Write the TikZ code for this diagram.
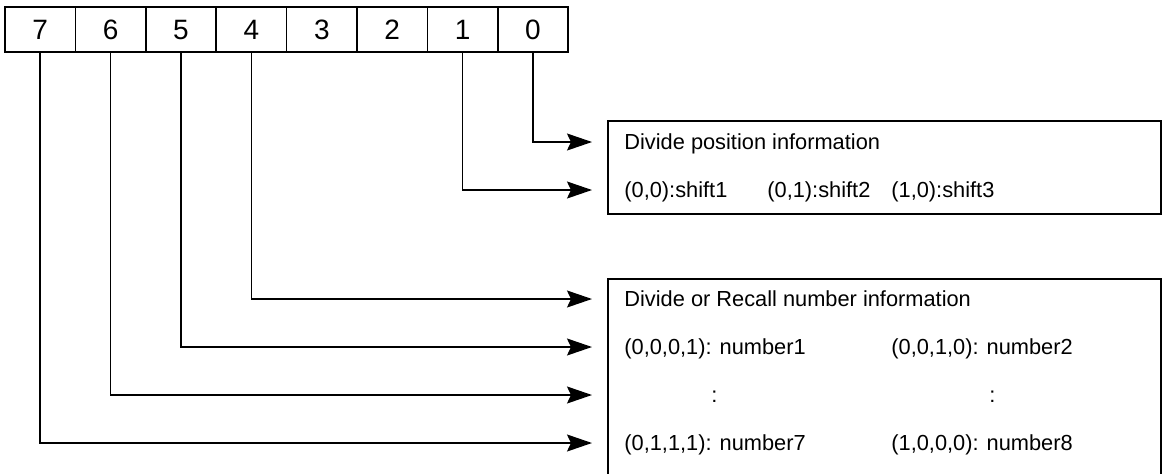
\documentclass[tikz,border=0pt]{standalone}
\usepackage{fontspec}
\setmainfont{Liberation Sans}
\usetikzlibrary{arrows.meta}

\newcommand{\bitfont}{\fontsize{14}{16}\selectfont}
\newcommand{\infofont}{\fontsize{10.9}{13}\selectfont}

\tikzset{
  bitcell/.style={draw=black, line width=0.8pt, minimum width=35.2pt, minimum height=22.5pt, inner sep=0pt, outer sep=0pt, font=\bitfont},
  infobox/.style={draw=black, line width=0.9pt, inner sep=0pt, outer sep=0pt, anchor=north west, minimum width=276.5pt},
  infotext/.style={anchor=base west, inner sep=0pt, yshift=-3.75pt, font=\infofont},
  wire/.style={line width=0.75pt, -{Stealth[length=12.5pt, width=8.5pt, inset=2pt]}}
}

\begin{document}
\begin{tikzpicture}[x=0.5pt, y=-0.5pt]
    \useasboundingbox (0,0) rectangle (1164,473);
    % register bits
    \foreach \b in {0,...,7}
        \node[bitcell] (b\b) at ({40.2+70.4*(7-\b)},29.5) {\b};
    % information boxes
    \node[infobox, minimum height=46.5pt] (posbox) at (608,121) {};
    \node[infobox, minimum height=100.5pt] (numbox) at (608,279) {};
    \node[infotext] (posttl) at (624,142) {Divide position information};
    \node[infotext] (sh1) at (624,190) {(0,0):shift1};
    \node[infotext] (sh2) at (767,190) {(0,1):shift2};
    \node[infotext] (sh3) at (891,190) {(1,0):shift3};
    \node[infotext] (numttl) at (624,299) {Divide or Recall number information};
    \node[infotext] (n1) at (624,347) {(0,0,0,1): number1};
    \node[infotext] (n2) at (891,347) {(0,0,1,0): number2};
    \node[infotext] (d1) at (711,395) {:};
    \node[infotext] (d2) at (989,395) {:};
    \node[infotext] (n7) at (624,443) {(0,1,1,1): number7};
    \node[infotext] (n8) at (891,443) {(1,0,0,0): number8};
    % arrow ends
    \coordinate (t0) at (592,142);
    \coordinate (t1) at (592,190);
    \coordinate (t4) at (592,299);
    \coordinate (t5) at (592,347);
    \coordinate (t6) at (592,395);
    \coordinate (t7) at (592,443);
    \foreach \b in {0,1,4,5,6,7}
        \draw[wire] (b\b.south) |- (t\b);
\end{tikzpicture}
\end{document}
